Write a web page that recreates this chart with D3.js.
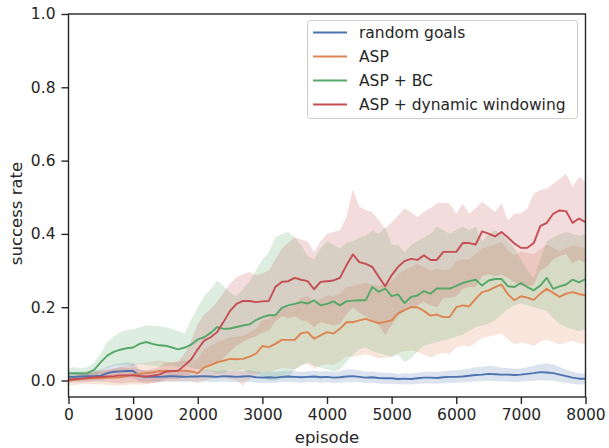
<!DOCTYPE html>
<html>
<head>
<meta charset="utf-8">
<script src="https://cdn.jsdelivr.net/npm/d3@7"></script>
<style>
  html, body { margin: 0; padding: 0; background: #fff; }
  svg { display: block; font-family: "DejaVu Sans", sans-serif; }
</style>
</head>
<body>
<svg id="chart" width="609" height="448"></svg>
<script>
// Episodes sampled every 100 steps
const episodes = d3.range(0, 8001, 100);

const seriesNames = ["random goals", "ASP", "ASP + BC", "ASP + dynamic windowing"];
const seriesColors = ["#4c72b0", "#dd8452", "#55a868", "#c44e52"];

const xTicks = [0, 1000, 2000, 3000, 4000, 5000, 6000, 7000, 8000];
const yTicks = [0.0, 0.2, 0.4, 0.6, 0.8, 1.0];

// random goals
const randomMean = [
  0.010, 0.010, 0.011, 0.012, 0.012, 0.013,
  0.020, 0.024, 0.025, 0.026, 0.026, 0.012, 0.010, 0.011, 0.010, 0.011, 0.012, 0.011, 0.010, 0.011, 0.011,
  0.012, 0.011, 0.010, 0.012, 0.011, 0.010, 0.011, 0.012, 0.009, 0.008,
  0.009, 0.008, 0.010, 0.011, 0.010, 0.009, 0.010, 0.011, 0.009, 0.010,
  0.008, 0.009, 0.011, 0.012, 0.010, 0.008, 0.009, 0.007, 0.006, 0.006,
  0.004, 0.005, 0.004, 0.006, 0.008, 0.008, 0.007, 0.009, 0.010, 0.010,
  0.011, 0.013, 0.015, 0.016, 0.018, 0.017, 0.016, 0.016, 0.015, 0.016,
  0.018, 0.020, 0.023, 0.022, 0.020, 0.016, 0.012, 0.008, 0.005, 0.005
];
const randomHi = [
  0.022, 0.023, 0.024, 0.026, 0.028, 0.030,
  0.038, 0.044, 0.047, 0.050, 0.048, 0.030, 0.026, 0.027, 0.025, 0.026, 0.028, 0.026, 0.025, 0.026, 0.027,
  0.028, 0.027, 0.025, 0.028, 0.027, 0.025, 0.026, 0.028, 0.024, 0.023,
  0.024, 0.023, 0.026, 0.027, 0.026, 0.024, 0.025, 0.027, 0.024, 0.026,
  0.024, 0.026, 0.030, 0.031, 0.027, 0.024, 0.025, 0.022, 0.021, 0.021,
  0.018, 0.020, 0.019, 0.021, 0.024, 0.024, 0.023, 0.025, 0.027, 0.028,
  0.030, 0.033, 0.036, 0.037, 0.040, 0.038, 0.035, 0.034, 0.032, 0.033,
  0.036, 0.040, 0.045, 0.047, 0.044, 0.037, 0.030, 0.024, 0.020, 0.019
];
const randomLo = [
  -0.002, -0.002, -0.001, 0.000, 0.000, 0.001,
  0.005, 0.007, 0.008, 0.008, 0.007, -0.002, -0.004, -0.003, -0.004, -0.003, -0.002, -0.003, -0.004, -0.003, -0.003,
  -0.003, -0.004, -0.005, -0.003, -0.004, -0.005, -0.004, -0.003, -0.006, -0.007,
  -0.006, -0.007, -0.005, -0.004, -0.005, -0.006, -0.005, -0.004, -0.006, -0.005,
  -0.007, -0.006, -0.005, -0.004, -0.005, -0.007, -0.006, -0.008, -0.009, -0.009,
  -0.010, -0.010, -0.011, -0.009, -0.008, -0.008, -0.009, -0.007, -0.006, -0.006,
  -0.005, -0.004, -0.003, -0.002, -0.001, -0.002, -0.003, -0.003, -0.004, -0.003,
  -0.002, -0.001, 0.001, 0.000, -0.001, -0.004, -0.007, -0.009, -0.011, -0.011
];

// ASP
const aspMean = [
  0.000, 0.002, 0.004, 0.006, 0.007, 0.007,
  0.008, 0.008, 0.009, 0.012, 0.016,
  0.018, 0.020, 0.022, 0.026, 0.027, 0.026, 0.027, 0.027, 0.025, 0.020,
  0.036, 0.042, 0.050, 0.054, 0.059, 0.058, 0.059, 0.065, 0.073, 0.094,
  0.091, 0.100, 0.111, 0.111, 0.111, 0.129, 0.132, 0.114, 0.123, 0.132,
  0.128, 0.141, 0.159, 0.159, 0.164, 0.168, 0.162, 0.157, 0.160, 0.164,
  0.184, 0.192, 0.200, 0.200, 0.190, 0.177, 0.180, 0.173, 0.173, 0.200,
  0.205, 0.202, 0.223, 0.241, 0.246, 0.255, 0.262, 0.235, 0.219, 0.230,
  0.226, 0.220, 0.237, 0.250, 0.239, 0.228, 0.237, 0.241, 0.236, 0.232
];
const aspHi = [
  0.015, 0.018, 0.022, 0.025, 0.026, 0.027,
  0.030, 0.033, 0.036, 0.040, 0.045,
  0.047, 0.050, 0.052, 0.055, 0.052, 0.050, 0.052, 0.055, 0.052, 0.060,
  0.085, 0.095, 0.105, 0.110, 0.118, 0.120, 0.122, 0.130, 0.140, 0.165,
  0.168, 0.180, 0.195, 0.200, 0.205, 0.225, 0.230, 0.215, 0.222, 0.232,
  0.230, 0.238, 0.255, 0.258, 0.262, 0.268, 0.262, 0.258, 0.262, 0.270,
  0.290, 0.300, 0.310, 0.318, 0.310, 0.300, 0.305, 0.300, 0.302, 0.325,
  0.330, 0.330, 0.345, 0.360, 0.365, 0.372, 0.378, 0.355, 0.342, 0.352,
  0.348, 0.345, 0.358, 0.372, 0.362, 0.352, 0.362, 0.368, 0.365, 0.360
];
const aspLo = [
  -0.012, -0.012, -0.010, -0.010, -0.010, -0.010,
  -0.012, -0.013, -0.014, -0.012, -0.010,
  -0.012, -0.010, -0.008, -0.004, -0.002, -0.004, -0.002, 0.000, -0.003, -0.008,
  0.000, 0.004, 0.006, 0.008, 0.004, 0.000, -0.014, 0.004, 0.012, 0.025,
  0.022, 0.028, 0.035, 0.033, 0.030, 0.042, 0.045, 0.032, 0.040, 0.045,
  0.042, 0.052, 0.066, 0.064, 0.068, 0.072, 0.066, 0.060, 0.062, 0.064,
  0.075, 0.080, 0.082, 0.078, 0.070, 0.062, 0.070, 0.075, 0.072, 0.090,
  0.095, 0.092, 0.102, 0.115, 0.120, 0.124, 0.128, 0.112, 0.098, 0.104,
  0.100, 0.095, 0.105, 0.112, 0.105, 0.098, 0.104, 0.108, 0.102, 0.098
];

// ASP + BC
const bcMean = [
  0.020, 0.020, 0.019, 0.020, 0.030, 0.050,
  0.068, 0.078, 0.084, 0.088, 0.090,
  0.100, 0.105, 0.100, 0.096, 0.095, 0.090, 0.085, 0.090, 0.098, 0.112,
  0.118, 0.130, 0.146, 0.141, 0.142, 0.146, 0.150, 0.153, 0.165, 0.173,
  0.178, 0.178, 0.198, 0.205, 0.209, 0.214, 0.210, 0.219, 0.205, 0.209,
  0.216, 0.205, 0.216, 0.218, 0.219, 0.219, 0.255, 0.242, 0.251, 0.230,
  0.235, 0.211, 0.228, 0.232, 0.244, 0.237, 0.251, 0.251, 0.251, 0.258,
  0.266, 0.271, 0.275, 0.259, 0.273, 0.277, 0.277, 0.257, 0.255, 0.266,
  0.255, 0.246, 0.259, 0.280, 0.250, 0.257, 0.262, 0.275, 0.268, 0.277
];
const bcHi = [
  0.035, 0.036, 0.034, 0.036, 0.050, 0.075,
  0.105, 0.120, 0.132, 0.138, 0.140,
  0.145, 0.150, 0.150, 0.148, 0.145, 0.141, 0.135, 0.128, 0.168, 0.200,
  0.230, 0.250, 0.272, 0.258, 0.240, 0.230, 0.250, 0.270, 0.300, 0.330,
  0.350, 0.390, 0.400, 0.405, 0.390, 0.370, 0.340, 0.330, 0.360, 0.380,
  0.370, 0.360, 0.375, 0.380, 0.390, 0.395, 0.410, 0.400, 0.418, 0.370,
  0.370, 0.350, 0.370, 0.380, 0.390, 0.400, 0.420, 0.410, 0.400, 0.410,
  0.420, 0.410, 0.420, 0.380, 0.400, 0.410, 0.400, 0.380, 0.360, 0.330,
  0.300, 0.280, 0.330, 0.380, 0.390, 0.400, 0.405, 0.400, 0.395, 0.400
];
const bcLo = [
  0.005, 0.005, 0.004, 0.005, 0.010, 0.025,
  0.035, 0.040, 0.042, 0.042, 0.040,
  0.045, 0.042, 0.040, 0.038, 0.040, 0.040, 0.036, 0.040, 0.035, 0.030,
  0.025, 0.025, 0.020, 0.020, 0.030, 0.025, 0.030, 0.020, 0.020, 0.010,
  0.000, 0.000, 0.005, 0.010, 0.030, 0.040, 0.050, 0.040, 0.035, 0.030,
  0.025, 0.030, 0.050, 0.070, 0.085, 0.090, 0.080, 0.075, 0.070, 0.065,
  0.070, 0.050, 0.060, 0.080, 0.095, 0.100, 0.105, 0.110, 0.114, 0.120,
  0.125, 0.135, 0.145, 0.150, 0.155, 0.165, 0.180, 0.195, 0.205, 0.210,
  0.205, 0.200, 0.195, 0.190, 0.170, 0.155, 0.145, 0.140, 0.135, 0.140
];

// ASP + dynamic windowing
const dwMean = [
  0.002, 0.004, 0.005, 0.007, 0.009, 0.010,
  0.011, 0.012, 0.014, 0.014, 0.014,
  0.012, 0.011, 0.013, 0.016, 0.024, 0.026, 0.027, 0.042, 0.058, 0.085,
  0.109, 0.118, 0.132, 0.160, 0.190, 0.209, 0.217, 0.217, 0.214, 0.216,
  0.217, 0.255, 0.269, 0.271, 0.280, 0.275, 0.271, 0.249, 0.269, 0.271,
  0.273, 0.280, 0.314, 0.344, 0.323, 0.318, 0.310, 0.283, 0.257, 0.287,
  0.310, 0.326, 0.332, 0.329, 0.342, 0.329, 0.329, 0.351, 0.351, 0.351,
  0.375, 0.375, 0.371, 0.407, 0.401, 0.393, 0.405, 0.390, 0.374, 0.362,
  0.362, 0.375, 0.421, 0.430, 0.455, 0.464, 0.462, 0.430, 0.442, 0.432
];
const dwHi = [
  0.010, 0.013, 0.015, 0.018, 0.022, 0.025,
  0.028, 0.032, 0.036, 0.034, 0.033,
  0.030, 0.028, 0.032, 0.036, 0.048, 0.050, 0.052, 0.075, 0.110, 0.155,
  0.180, 0.195, 0.215, 0.240, 0.265, 0.282, 0.290, 0.296, 0.288, 0.292,
  0.300, 0.330, 0.360, 0.375, 0.390, 0.385, 0.380, 0.350, 0.380, 0.400,
  0.405, 0.410, 0.446, 0.521, 0.474, 0.465, 0.460, 0.437, 0.414, 0.432,
  0.450, 0.469, 0.460, 0.446, 0.460, 0.470, 0.483, 0.485, 0.483, 0.456,
  0.483, 0.456, 0.470, 0.488, 0.474, 0.460, 0.483, 0.437, 0.456, 0.456,
  0.470, 0.510, 0.519, 0.524, 0.537, 0.550, 0.565, 0.528, 0.556, 0.542
];
const dwLo = [
  -0.006, -0.005, -0.005, -0.004, -0.003, -0.003,
  -0.004, -0.006, -0.008, -0.006, -0.005,
  -0.006, -0.008, -0.006, -0.004, 0.004, 0.004, 0.005, 0.012, 0.020, 0.030,
  0.035, 0.040, 0.045, 0.060, 0.080, 0.095, 0.105, 0.115, 0.120, 0.130,
  0.135, 0.160, 0.175, 0.170, 0.175, 0.165, 0.160, 0.145, 0.160, 0.155,
  0.150, 0.155, 0.180, 0.200, 0.185, 0.175, 0.165, 0.150, 0.125, 0.150,
  0.175, 0.190, 0.200, 0.205, 0.215, 0.205, 0.200, 0.225, 0.225, 0.230,
  0.250, 0.255, 0.255, 0.285, 0.290, 0.285, 0.290, 0.280, 0.268, 0.258,
  0.255, 0.262, 0.300, 0.310, 0.330, 0.340, 0.345, 0.320, 0.330, 0.320
];

const series = [
  { name: seriesNames[0], color: seriesColors[0], mean: randomMean, lo: randomLo, hi: randomHi },
  { name: seriesNames[1], color: seriesColors[1], mean: aspMean, lo: aspLo, hi: aspHi },
  { name: seriesNames[2], color: seriesColors[2], mean: bcMean, lo: bcLo, hi: bcHi },
  { name: seriesNames[3], color: seriesColors[3], mean: dwMean, lo: dwLo, hi: dwHi }
];

const svg = d3.select("#chart");
const plotLeft = 68.5, plotRight = 585.5, plotTop = 14, plotBottom = 397;
const ink = "#262626";

const x = d3.scaleLinear().domain([0, 8000]).range([plotLeft, plotRight]);
const y = d3.scaleLinear().domain([-0.045, 1.0]).range([plotBottom, plotTop]);

const plot = svg.append("g");

// confidence bands underneath every line
const area = d3.area()
  .x((d, i) => x(episodes[i]))
  .y0(d => y(d[0]))
  .y1(d => y(d[1]));
series.forEach(s => {
  const band = s.lo.map((v, i) => [v, s.hi[i]]);
  plot.append("path")
    .datum(band)
    .attr("d", area)
    .attr("fill", s.color)
    .attr("fill-opacity", 0.2)
    .attr("stroke", "none");
});

const line = d3.line()
  .x((d, i) => x(episodes[i]))
  .y(d => y(d));
series.forEach(s => {
  plot.append("path")
    .datum(s.mean)
    .attr("d", line)
    .attr("fill", "none")
    .attr("stroke", s.color)
    .attr("stroke-width", 1.9)
    .attr("stroke-linejoin", "round");
});

// axes
const xAxis = d3.axisBottom(x).tickValues(xTicks).tickFormat(d3.format("d")).tickSizeOuter(0).tickSize(7).tickPadding(5);
const yAxis = d3.axisLeft(y).tickValues(yTicks).tickFormat(d3.format(".1f")).tickSizeOuter(0).tickSize(7).tickPadding(6);

const gx = svg.append("g").attr("transform", `translate(0,${plotBottom})`).call(xAxis);
const gy = svg.append("g").attr("transform", `translate(${plotLeft},0)`).call(yAxis);
[gx, gy].forEach(g => {
  g.select(".domain").remove();
  g.selectAll(".tick line").attr("stroke", ink).attr("stroke-width", 1.4);
  g.selectAll(".tick text").attr("fill", ink).attr("font-size", 15.5).attr("font-family", "DejaVu Sans");
});

// frame
svg.append("rect")
  .attr("x", plotLeft).attr("y", plotTop)
  .attr("width", plotRight - plotLeft).attr("height", plotBottom - plotTop)
  .attr("fill", "none").attr("stroke", ink).attr("stroke-width", 1.4);

// axis titles
svg.append("text")
  .attr("x", (plotLeft + plotRight) / 2).attr("y", 443)
  .attr("text-anchor", "middle").attr("fill", ink)
  .attr("font-size", 16.5).text("episode");
svg.append("text")
  .attr("transform", `translate(22,${(plotTop + plotBottom) / 2 + 8}) rotate(-90)`)
  .attr("text-anchor", "middle").attr("fill", ink)
  .attr("font-size", 16.5).text("success rate");

// legend
const legend = svg.append("g");
legend.append("rect")
  .attr("x", 307.5).attr("y", 20.5).attr("width", 270).attr("height", 98)
  .attr("rx", 3).attr("fill", "#ffffff").attr("fill-opacity", 0.8)
  .attr("stroke", "#cccccc").attr("stroke-width", 1);
series.forEach((s, i) => {
  const cy = 32.5 + i * 24;
  legend.append("line")
    .attr("x1", 313).attr("x2", 347).attr("y1", cy).attr("y2", cy)
    .attr("stroke", s.color).attr("stroke-width", 1.9);
  legend.append("text")
    .attr("x", 359).attr("y", cy).attr("dy", "0.35em")
    .attr("fill", ink).attr("font-size", 15.5).text(s.name);
});
</script>
</body>
</html>
